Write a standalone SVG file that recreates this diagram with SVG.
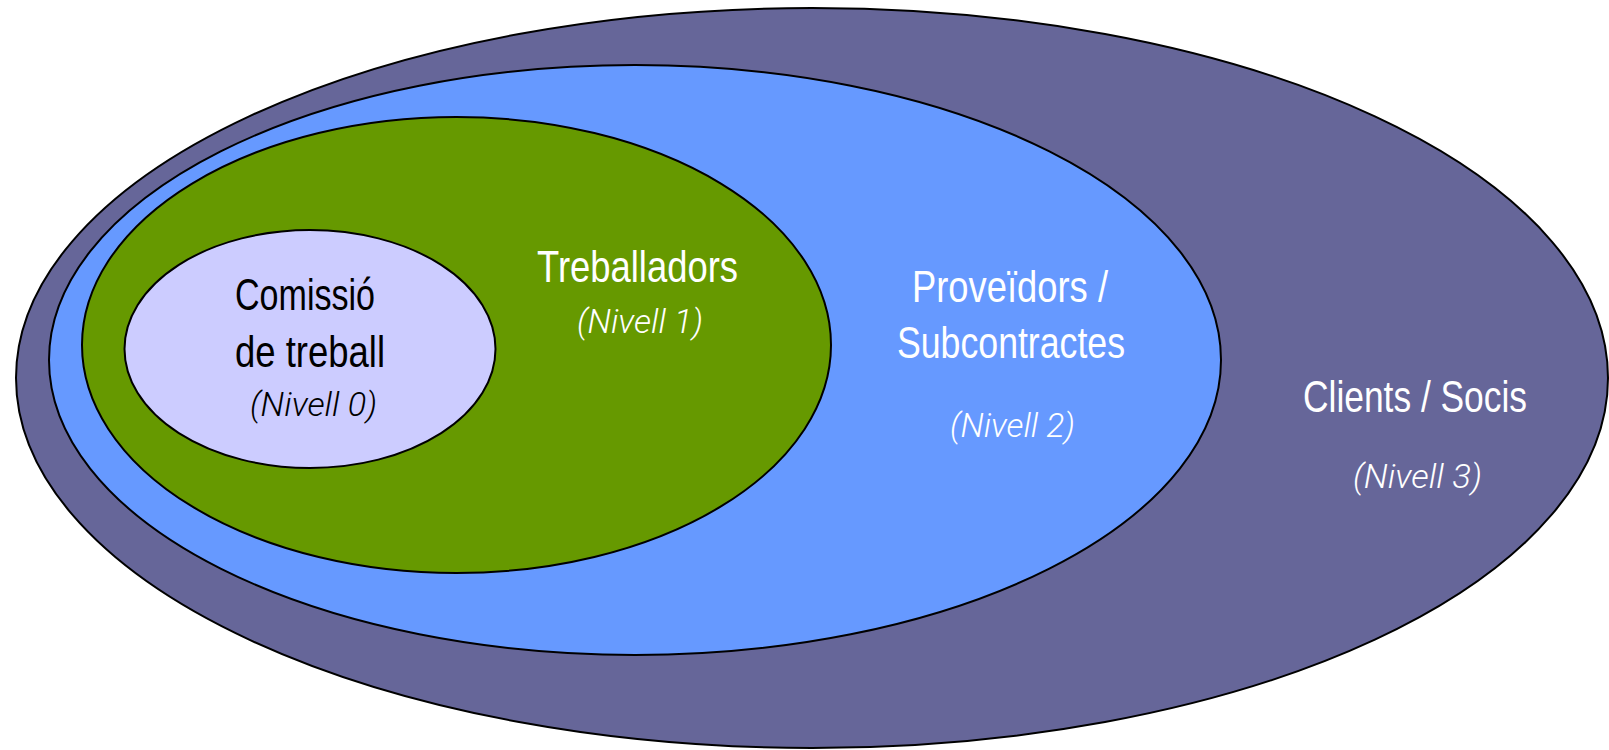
<svg xmlns="http://www.w3.org/2000/svg" width="1609" height="750" viewBox="0 0 1609 750">
<style>
.e{stroke:#000;stroke-width:2}
.t{font-family:"Liberation Sans",Arial,sans-serif;font-size:45px;fill:#fff}
.i{font-family:Roboto,"Liberation Sans",sans-serif;font-weight:300;font-style:italic;font-size:34px;fill:#fff}
.k{fill:#000}
</style>
<rect width="1609" height="750" fill="#fff"/>
<g id="nivell3"><ellipse class="e" cx="812" cy="378" rx="796" ry="370" fill="#666699"/>
<text class="t" x="1303" y="412" textLength="224" lengthAdjust="spacingAndGlyphs">Clients / Socis</text>
<text class="i" x="1353" y="488" textLength="129" lengthAdjust="spacingAndGlyphs">(Nivell 3)</text></g>
<g id="nivell2"><ellipse class="e" cx="635" cy="360" rx="586" ry="295" fill="#6699FF"/>
<text class="t" x="912" y="302" textLength="196" lengthAdjust="spacingAndGlyphs">Proveïdors /</text>
<text class="t" x="897" y="358" textLength="228" lengthAdjust="spacingAndGlyphs">Subcontractes</text>
<text class="i" x="950" y="437" textLength="125" lengthAdjust="spacingAndGlyphs">(Nivell 2)</text></g>
<g id="nivell1"><ellipse class="e" cx="456.5" cy="345" rx="374.5" ry="228" fill="#669900"/>
<text class="t" x="537" y="282" textLength="201" lengthAdjust="spacingAndGlyphs">Treballadors</text>
<text class="i" x="577" y="333" textLength="126" lengthAdjust="spacingAndGlyphs">(Nivell 1)</text></g>
<g id="nivell0"><ellipse class="e" cx="310" cy="349" rx="185.5" ry="119" fill="#CCCCFF"/>
<text class="t k" x="235" y="310" textLength="140" lengthAdjust="spacingAndGlyphs">Comissió</text>
<text class="t k" x="235" y="367" textLength="150" lengthAdjust="spacingAndGlyphs">de treball</text>
<text class="i k" x="250" y="416" textLength="127" lengthAdjust="spacingAndGlyphs">(Nivell 0)</text></g>
<g id="connectors"></g>
</svg>
